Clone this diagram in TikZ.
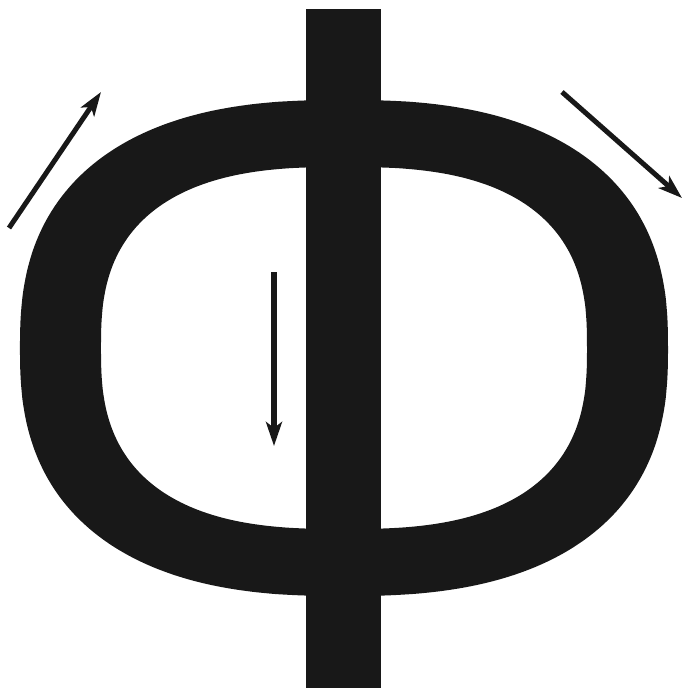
\documentclass[tikz,border=0pt]{standalone}
\usetikzlibrary{arrows.meta}
\definecolor{ink}{RGB}{24,24,24}
\tikzset{
  flux/.style={draw=ink, line width=5pt, -{Stealth[length=24pt,width=16pt,inset=6pt]}},
}
\begin{document}
\begin{tikzpicture}[x=1pt,y=-1pt]
\useasboundingbox (0,0) rectangle (684,691);
% ring (superellipse outer and inner, even-odd)
\fill[ink, even odd rule]
  plot[domain=0.3:360.3, samples=240, smooth cycle]
    ({344+324*sign(cos(\x))*abs(cos(\x))^0.8},{348+248*sign(sin(\x))*abs(sin(\x))^0.8})
  plot[domain=0.3:360.3, samples=240, smooth cycle]
    ({344+243*sign(cos(\x))*abs(cos(\x))^0.75},{348+181*sign(sin(\x))*abs(sin(\x))^0.75});
% vertical bar
\fill[ink] (306,9) rectangle (381,688);
% arrows
\coordinate (a1s) at (9,228);
\coordinate (a1e) at (101,92);
\coordinate (a2s) at (562,92);
\coordinate (a2e) at (682,198);
\coordinate (a3s) at (274,272);
\coordinate (a3e) at (274,446);
\draw[flux] (a1s) -- (a1e);
\draw[flux] (a2s) -- (a2e);
\draw[flux, line width=5.5pt] (a3s) -- (a3e);
\end{tikzpicture}
\end{document}
